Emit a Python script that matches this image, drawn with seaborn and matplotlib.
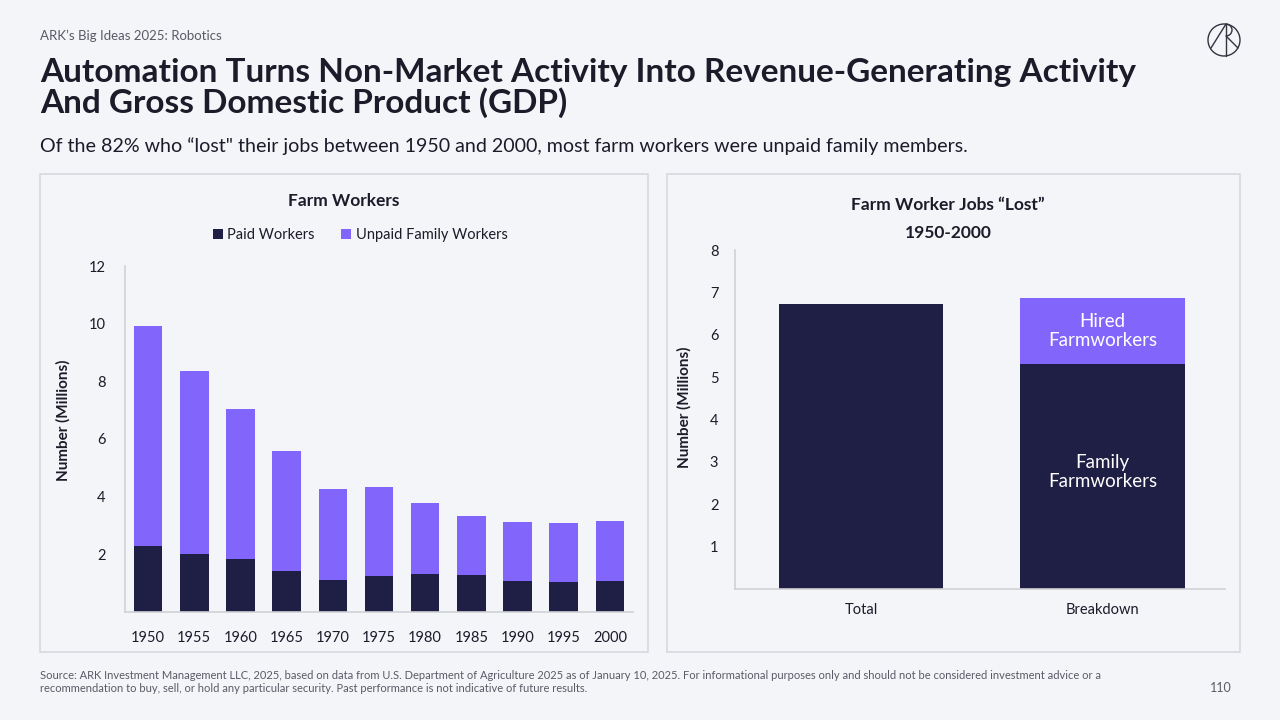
import matplotlib
matplotlib.use('Agg')
import matplotlib.pyplot as plt
import seaborn as sns
import pandas as pd
from matplotlib.patches import Circle, Rectangle, Arc

# data
years = ['1950', '1955', '1960', '1965', '1970', '1975', '1980', '1985', '1990', '1995', '2000']
paid_workers = [2.29, 2.01, 1.84, 1.42, 1.11, 1.25, 1.32, 1.28, 1.08, 1.04, 1.08]
unpaid_family_workers = [7.63, 6.35, 5.20, 4.16, 3.16, 3.09, 2.46, 2.05, 2.04, 2.05, 2.08]

lost_categories = ['Total', 'Breakdown']
lost_total = 6.72
family_farmworkers = 5.31
hired_farmworkers = 1.55

DARK = '#1f1e45'
PURPLE = '#8266fc'
BG = '#f4f5f8'
GREY_TXT = '#5a5a66'
TXT = '#1b1b2a'

sns.set_theme(style='white')
plt.rcParams['font.family'] = ['Lato', 'DejaVu Sans']

fig = plt.figure(figsize=(12.8, 7.2), dpi=100)
fig.patch.set_facecolor(BG)

W, H = 1280, 720
def fx(px):
    return px / W
def fy(py):
    return 1 - py / H

# header texts
fig.text(fx(40), fy(36), "ARK\u2019s Big Ideas 2025: Robotics", fontsize=9.5, color=GREY_TXT, va='center')
fig.text(fx(40), fy(88), "Automation Turns Non-Market Activity Into Revenue-Generating Activity\nAnd Gross Domestic Product (GDP)",
         fontsize=24, fontweight='bold', color=TXT, va='center', linespacing=1.03)
fig.text(fx(40), fy(146), "Of the 82% who \u201clost\" their jobs between 1950 and 2000, most farm workers were unpaid family members.",
         fontsize=14.1, color=TXT, va='center')

# logo
lax = fig.add_axes([fx(1204), fy(60), 40 / W, 40 / H])
lax.set_xlim(-20, 20)
lax.set_ylim(-20, 20)
lax.set_aspect('equal')
lax.axis('off')
lc = '#333340'
lax.add_patch(Circle((0, 0), 16, fill=False, edgecolor=lc, lw=1.0))
lax.plot([-13, 2], [-8, 16], color=lc, lw=1.0)
lax.plot([2, 2], [16, -16], color=lc, lw=1.0)
lax.add_patch(Arc((2, 10), 12, 12, theta1=-90, theta2=90, edgecolor=lc, lw=1.0))
lax.plot([2, 14], [4, -8], color=lc, lw=1.0)

# panel boxes
for (x0, y0, x1, y1) in [(40, 174, 648, 652), (667, 174, 1240, 652)]:
    fig.patches.append(Rectangle((fx(x0), fy(y1)), (x1 - x0) / W, (y1 - y0) / H,
                                 transform=fig.transFigure, fill=False,
                                 edgecolor='#d8d9de', lw=1.2, figure=fig, zorder=0))

# left chart
ax1 = fig.add_axes([fx(125), fy(612), (633 - 125) / W, (612 - 266) / H])
ax1.set_zorder(2)
ax1.set_facecolor(BG)
total_workers = [p + u for p, u in zip(paid_workers, unpaid_family_workers)]
df1 = pd.DataFrame({'year': years, 'paid': paid_workers, 'total': total_workers})
sns.barplot(data=df1, x='year', y='total', color=PURPLE, width=0.62, ax=ax1,
            saturation=1, label='Unpaid Family Workers', linewidth=0)
sns.barplot(data=df1, x='year', y='paid', color=DARK, width=0.62, ax=ax1,
            saturation=1, label='Paid Workers', linewidth=0)
h, l = ax1.get_legend_handles_labels()
if ax1.get_legend() is not None:
    ax1.get_legend().remove()
ax1.set_ylim(0, 12)
ax1.set_yticks([2, 4, 6, 8, 10, 12])
ax1.set_xlim(-0.5, len(years) - 0.5)
ax1.set_xlabel('')
ax1.set_ylabel('Number (Millions)', fontsize=11, fontweight='bold', color=TXT)
ax1.yaxis.set_label_coords(-0.108, 0.555)
ax1.tick_params(axis='both', length=0, labelsize=10.5, labelcolor=TXT)
ax1.tick_params(axis='x', pad=14)
ax1.tick_params(axis='y', pad=14)
for s in ['top', 'right']:
    ax1.spines[s].set_visible(False)
for s in ['left', 'bottom']:
    ax1.spines[s].set_color('#d0d1d6')
    ax1.spines[s].set_linewidth(1.2)
leg = fig.legend(h[::-1], l[::-1], loc='center', bbox_to_anchor=(fx(360), fy(235)), ncol=2, frameon=False,
                 fontsize=10.5, handlelength=0.7, handleheight=0.7, handletextpad=0.3, columnspacing=1.8)
for t in leg.get_texts():
    t.set_color(TXT)
fig.text(fx(344), fy(201), 'Farm Workers', fontsize=12.5, fontweight='bold', color=TXT, ha='center', va='center')

# right chart
ax2 = fig.add_axes([fx(735), fy(589), (1225 - 735) / W, (589 - 250) / H])
ax2.set_zorder(2)
ax2.set_facecolor(BG)
df2 = pd.DataFrame({'cat': lost_categories,
                    'top': [lost_total, family_farmworkers + hired_farmworkers],
                    'base': [lost_total, family_farmworkers]})
sns.barplot(data=df2, x='cat', y='top', hue='cat', palette=[DARK, PURPLE], width=0.68,
            ax=ax2, saturation=1, legend=False, linewidth=0)
sns.barplot(data=df2, x='cat', y='base', color=DARK, width=0.68, ax=ax2, saturation=1, linewidth=0)
ax2.set_ylim(0, 8)
ax2.set_yticks(range(1, 9))
ax2.set_xlim(-0.522, 1.507)
ax2.set_xlabel('')
ax2.set_ylabel('Number (Millions)', fontsize=11, fontweight='bold', color=TXT)
ax2.yaxis.set_label_coords(-0.088, 0.537)
ax2.tick_params(axis='both', length=0, labelsize=10.5, labelcolor=TXT)
ax2.tick_params(axis='x', pad=10)
ax2.tick_params(axis='y', pad=12)
for s in ['top', 'right']:
    ax2.spines[s].set_visible(False)
for s in ['left', 'bottom']:
    ax2.spines[s].set_color('#d0d1d6')
    ax2.spines[s].set_linewidth(1.2)
ax2.text(1, family_farmworkers + hired_farmworkers / 2, 'Hired\nFarmworkers', ha='center', va='center',
         color='white', fontsize=13.5, linespacing=1.1)
ax2.text(1, family_farmworkers * 0.52, 'Family\nFarmworkers', ha='center', va='center',
         color='white', fontsize=13.5, linespacing=1.1)
fig.text(fx(948), fy(219), 'Farm Worker Jobs \u201cLost\u201d\n1950-2000', fontsize=12.5, fontweight='bold',
         color=TXT, ha='center', va='center', linespacing=1.85)

# footnote
fig.text(fx(40), fy(682), "Source: ARK Investment Management LLC, 2025, based on data from U.S. Department of Agriculture 2025 as of January 10, 2025. For informational purposes only and should not be considered investment advice or a\nrecommendation to buy, sell, or hold any particular security. Past performance is not indicative of future results.",
         fontsize=8, color=GREY_TXT, va='center', linespacing=1.2)
fig.text(fx(1232), fy(688), '110', fontsize=9, color=GREY_TXT, ha='right', va='center')

fig.savefig('out.png', dpi=100, facecolor=BG)
